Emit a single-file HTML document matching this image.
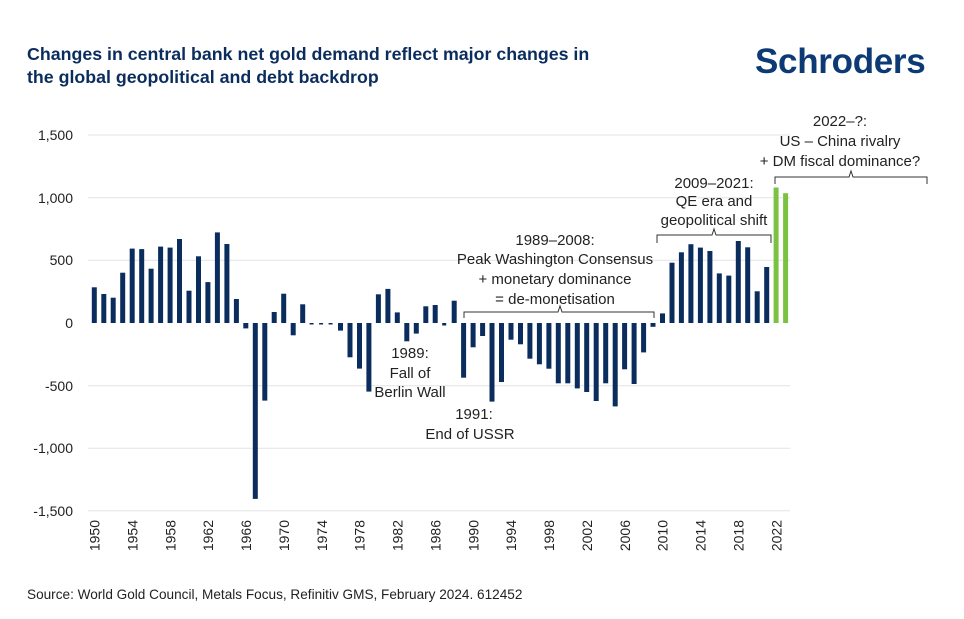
<!DOCTYPE html>
<html><head><meta charset="utf-8"><style>
body{margin:0;background:#fff;}
svg{display:block;font-family:"Liberation Sans",sans-serif;}
</style></head><body>
<svg width="964" height="619" xmlns="http://www.w3.org/2000/svg">
<text x="27" y="60" font-size="17.8" font-weight="bold" fill="#0b2d5e">Changes in central bank net gold demand reflect major changes in</text>
<text x="27" y="83" font-size="17.8" font-weight="bold" fill="#0b2d5e">the global geopolitical and debt backdrop</text>
<text x="755" y="73" font-size="35" font-weight="bold" fill="#0b3a75" letter-spacing="-0.3">Schroders</text>
<g stroke="#e3e3e3" stroke-width="1">
<line x1="88" x2="790" y1="135" y2="135"/><line x1="88" x2="790" y1="197.7" y2="197.7"/>
<line x1="88" x2="790" y1="260.3" y2="260.3"/><line x1="88" x2="790" y1="385.7" y2="385.7"/>
<line x1="88" x2="790" y1="448.3" y2="448.3"/><line x1="88" x2="790" y1="510.7" y2="510.7"/>
</g>
<g font-size="14" fill="#222" text-anchor="end">
<text x="73" y="140">1,500</text><text x="73" y="203">1,000</text><text x="73" y="265">500</text>
<text x="73" y="328">0</text><text x="73" y="391">-500</text><text x="73" y="453">-1,000</text><text x="73" y="516">-1,500</text>
</g>
<g fill="#0b2d5e">
<rect x="91.8" y="287.3" width="5" height="35.7"/>
<rect x="101.3" y="294" width="5" height="29"/>
<rect x="110.7" y="297.7" width="5" height="25.3"/>
<rect x="120.2" y="272.7" width="5" height="50.3"/>
<rect x="129.7" y="248.6" width="5" height="74.4"/>
<rect x="139.2" y="249.1" width="5" height="73.9"/>
<rect x="148.6" y="268.7" width="5" height="54.3"/>
<rect x="158.1" y="246.6" width="5" height="76.4"/>
<rect x="167.6" y="247.6" width="5" height="75.4"/>
<rect x="177" y="239" width="5" height="84"/>
<rect x="186.5" y="290.7" width="5" height="32.3"/>
<rect x="196" y="256.3" width="5" height="66.7"/>
<rect x="205.4" y="282.1" width="5" height="40.9"/>
<rect x="214.9" y="232.4" width="5" height="90.6"/>
<rect x="224.4" y="244" width="5" height="79"/>
<rect x="233.9" y="299" width="5" height="24"/>
<rect x="243.3" y="323" width="5" height="5.4"/>
<rect x="252.8" y="323" width="5" height="175.9"/>
<rect x="262.3" y="323" width="5" height="77.6"/>
<rect x="271.7" y="312" width="5" height="11"/>
<rect x="281.2" y="293.7" width="5" height="29.3"/>
<rect x="290.7" y="323" width="5" height="12.3"/>
<rect x="300.2" y="304.3" width="5" height="18.7"/>
<rect x="309.6" y="323" width="4" height="1.5"/>
<rect x="319.1" y="323" width="4" height="1.5"/>
<rect x="328.6" y="323" width="4" height="1.5"/>
<rect x="338" y="323" width="5" height="7.6"/>
<rect x="347.5" y="323" width="5" height="34.3"/>
<rect x="357" y="323" width="5" height="45.6"/>
<rect x="366.4" y="323" width="5" height="68.6"/>
<rect x="375.9" y="294.3" width="5" height="28.7"/>
<rect x="385.4" y="288.9" width="5" height="34.1"/>
<rect x="394.8" y="312.4" width="5" height="10.6"/>
<rect x="404.3" y="323" width="5" height="18.3"/>
<rect x="413.8" y="323" width="5" height="10.6"/>
<rect x="423.3" y="306.3" width="5" height="16.7"/>
<rect x="432.7" y="305" width="5" height="18"/>
<rect x="442.2" y="323" width="4" height="2.5"/>
<rect x="451.7" y="300.7" width="5" height="22.3"/>
<rect x="461.1" y="323" width="5" height="54.7"/>
<rect x="470.6" y="323" width="5" height="24.3"/>
<rect x="480.1" y="323" width="5" height="13"/>
<rect x="489.5" y="323" width="5" height="78.6"/>
<rect x="499" y="323" width="5" height="59"/>
<rect x="508.5" y="323" width="5" height="16.7"/>
<rect x="518" y="323" width="5" height="21.3"/>
<rect x="527.4" y="323" width="5" height="35.7"/>
<rect x="536.9" y="323" width="5" height="41.3"/>
<rect x="546.4" y="323" width="5" height="45.7"/>
<rect x="555.8" y="323" width="5" height="60.3"/>
<rect x="565.3" y="323" width="5" height="60.3"/>
<rect x="574.8" y="323" width="5" height="65.4"/>
<rect x="584.2" y="323" width="5" height="69"/>
<rect x="593.7" y="323" width="5" height="78"/>
<rect x="603.2" y="323" width="5" height="60.3"/>
<rect x="612.7" y="323" width="5" height="83.4"/>
<rect x="622.1" y="323" width="5" height="46.3"/>
<rect x="631.6" y="323" width="5" height="61"/>
<rect x="641.1" y="323" width="5" height="29.4"/>
<rect x="650.5" y="323" width="5" height="3.8"/>
<rect x="660" y="313.4" width="5" height="9.6"/>
<rect x="669.5" y="262.7" width="5" height="60.3"/>
<rect x="678.9" y="252.3" width="5" height="70.7"/>
<rect x="688.4" y="244.2" width="5" height="78.8"/>
<rect x="697.9" y="247.6" width="5" height="75.4"/>
<rect x="707.4" y="251" width="5" height="72"/>
<rect x="716.8" y="273.4" width="5" height="49.6"/>
<rect x="726.3" y="275.6" width="5" height="47.4"/>
<rect x="735.8" y="241" width="5" height="82"/>
<rect x="745.2" y="247.3" width="5" height="75.7"/>
<rect x="754.7" y="291.3" width="5" height="31.7"/>
<rect x="764.2" y="267" width="5" height="56"/>
</g>
<g fill="#7cc242">
<rect x="773.6" y="187.5" width="5" height="135.5"/>
<rect x="783.1" y="193.2" width="5" height="129.8"/>
</g>
<g font-size="14" fill="#222" text-anchor="end">
<text transform="translate(99.5,520) rotate(-90)">1950</text>
<text transform="translate(137.4,520) rotate(-90)">1954</text>
<text transform="translate(175.3,520) rotate(-90)">1958</text>
<text transform="translate(213.2,520) rotate(-90)">1962</text>
<text transform="translate(251,520) rotate(-90)">1966</text>
<text transform="translate(288.9,520) rotate(-90)">1970</text>
<text transform="translate(326.8,520) rotate(-90)">1974</text>
<text transform="translate(364.7,520) rotate(-90)">1978</text>
<text transform="translate(402.6,520) rotate(-90)">1982</text>
<text transform="translate(440.4,520) rotate(-90)">1986</text>
<text transform="translate(478.3,520) rotate(-90)">1990</text>
<text transform="translate(516.2,520) rotate(-90)">1994</text>
<text transform="translate(554.1,520) rotate(-90)">1998</text>
<text transform="translate(592,520) rotate(-90)">2002</text>
<text transform="translate(629.8,520) rotate(-90)">2006</text>
<text transform="translate(667.7,520) rotate(-90)">2010</text>
<text transform="translate(705.6,520) rotate(-90)">2014</text>
<text transform="translate(743.5,520) rotate(-90)">2018</text>
<text transform="translate(781.4,520) rotate(-90)">2022</text>
</g>
<g fill="none" stroke="#333" stroke-width="1">
<path d="M464,318 V312 H558 L560,306 L562,312 H654 V318"/>
<path d="M657,243 V235 H712 L714,229 L716,235 H771 V243"/>
<path d="M775,184 V177 H849 L851,171 L853,177 H927 V184"/>
</g>
<g font-size="15" fill="#222" text-anchor="middle">
<text x="840" y="126">2022–?:</text>
<text x="840" y="146">US – China rivalry</text>
<text x="840" y="166">+ DM fiscal dominance?</text>
<text x="714" y="188">2009–2021:</text>
<text x="714" y="206">QE era and</text>
<text x="714" y="225">geopolitical shift</text>
<text x="555" y="245">1989–2008:</text>
<text x="555" y="264">Peak Washington Consensus</text>
<text x="555" y="284">+ monetary dominance</text>
<text x="555" y="304">= de-monetisation</text>
<text x="410" y="358">1989:</text>
<text x="410" y="378">Fall of</text>
<text x="410" y="397">Berlin Wall</text>
<text x="474" y="419">1991:</text>
<text x="470" y="439">End of USSR</text>
</g>
<text x="27" y="599" font-size="13.6" fill="#222">Source: World Gold Council, Metals Focus, Refinitiv GMS, February 2024. 612452</text>
</svg>
</body></html>
